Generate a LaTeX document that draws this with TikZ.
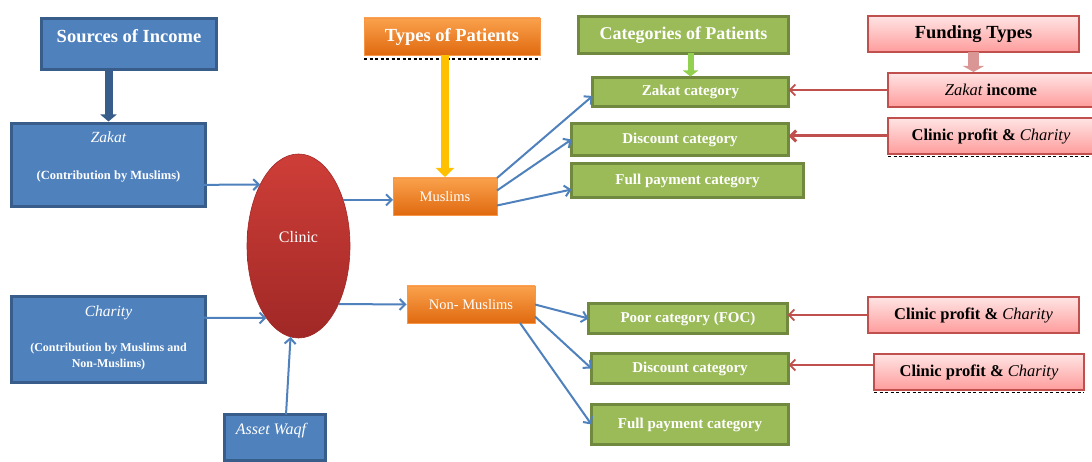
\documentclass[tikz,border=0pt]{standalone}
\usepackage{fontspec}
\setmainfont{Liberation Serif}
\usetikzlibrary{arrows.meta,shapes.geometric}
\definecolor{bdark}{HTML}{385D8A}
\definecolor{bfill}{HTML}{4F81BD}
\definecolor{gdark}{HTML}{71893F}
\definecolor{gfill}{HTML}{9BBB59}
\definecolor{otop}{HTML}{FAA14C}
\definecolor{obot}{HTML}{E06A10}
\definecolor{oline}{HTML}{F79646}
\definecolor{redc}{HTML}{C0504D}
\definecolor{ptop}{HTML}{FFE4E4}
\definecolor{pbot}{HTML}{FF9C9C}
\definecolor{ctop}{HTML}{CF3E38}
\definecolor{cbot}{HTML}{A02826}
\definecolor{yarrow}{HTML}{FFC000}
\definecolor{garrow}{HTML}{92D050}
\definecolor{parrow}{HTML}{D99694}
\tikzset{
 bluebox/.style={draw=bdark, line width=3pt, fill=bfill, text=white, inner sep=0pt, outer sep=0pt},
 greenbox/.style={draw=gdark, line width=3pt, fill=gfill, text=white, font=\fontsize{15}{18}\selectfont\bfseries, inner sep=0pt, outer sep=0pt},
 orangebox/.style={draw=oline, line width=0.8pt, top color=otop, bottom color=obot, text=white, inner sep=0pt, outer sep=0pt},
 pinkbox/.style={draw=redc, line width=2pt, top color=ptop, bottom color=pbot, text=black, font=\fontsize{16.5}{19}\selectfont\bfseries, inner sep=0pt, outer sep=0pt},
 headtxt/.style={text=white, font=\fontsize{18.5}{22}\selectfont\bfseries},
 bluearrow/.style={draw=bfill, line width=2pt, -{Straight Barb[length=5.5pt,width=11pt]}},
 redarrow/.style={draw=redc, line width=1.8pt, -{Straight Barb[length=5.5pt,width=11pt]}},
 dotline/.style={draw=black, line width=1.6pt, dash pattern=on 3pt off 2.5pt},
}
\begin{document}
\begin{tikzpicture}[x=1pt,y=-1pt]
\useasboundingbox[fill=white] (0,0) rectangle (1092,462);

% Sources column
\node[bluebox, minimum width=175, minimum height=51,
  label={[headtxt, yshift=8pt]center:Sources of Income}] (src) at (129,44) {};
\node[bluebox, minimum width=194, minimum height=83,
  label={[text=white, align=center, yshift=8.5pt, font=\fontsize{12.5}{15}\selectfont]center:{{\itshape\fontsize{15.5}{15}\selectfont Zakat}\\[22pt]{\bfseries (Contribution by Muslims)}}}] (zak) at (108.5,165) {};
\node[bluebox, minimum width=194, minimum height=86,
  label={[text=white, align=center, yshift=2pt, font=\fontsize{12}{16}\selectfont]center:{{\itshape\fontsize{15.5}{16}\selectfont Charity}\\[19pt]{\bfseries (Contribution by Muslims and}\\{\bfseries Non-Muslims)}}}] (cha) at (108.5,339.5) {};
\node[bluebox, minimum width=101, minimum height=46,
  label={[text=white, yshift=7pt, xshift=-4pt, font=\fontsize{16}{18}\selectfont\itshape]center:Asset Waqf}] (waqf) at (275,437.5) {};

% Clinic
\node[ellipse, minimum width=103, minimum height=184, inner sep=0pt, outer sep=0pt,
  top color=ctop, bottom color=cbot, draw=cbot, line width=0.6pt,
  label={[text=white, yshift=9pt, font=\fontsize{16}{18}\selectfont]center:Clinic}] (clinic) at (298.5,246) {};

% Types of patients
\node[orangebox, minimum width=176, minimum height=37, font=\fontsize{18.5}{22}\selectfont\bfseries] (top) at (452,36.5) {Types of Patients};
\node[orangebox, minimum width=104, minimum height=37, font=\fontsize{14.5}{17}\selectfont] (mus) at (445,196.5) {Muslims};
\node[orangebox, minimum width=128, minimum height=37, font=\fontsize{14.5}{17}\selectfont] (nonmus) at (471,304.5) {Non- Muslims};

% Categories
\node[greenbox, minimum width=210, minimum height=37, font=\fontsize{18}{21}\selectfont\bfseries] (cat) at (683.5,35) {Categories of Patients};
\node[greenbox, minimum width=196, minimum height=29] (zc) at (690.5,92) {Zakat category};
\node[greenbox, minimum width=217, minimum height=32] (dc1) at (680,139.5) {Discount category};
\node[greenbox, minimum width=232, minimum height=34] (fp1) at (687.5,180.5) {Full payment category};
\node[greenbox, minimum width=199, minimum height=30] (poor) at (688,318.5) {Poor category (FOC)};
\node[greenbox, minimum width=197, minimum height=30] (dc2) at (690,368.5) {Discount category};
\node[greenbox, minimum width=197, minimum height=40] (fp2) at (690,424.5) {Full payment category};

% Funding types
\node[pinkbox, minimum width=211, minimum height=36, font=\fontsize{18.5}{22}\selectfont\bfseries] (fund) at (973.5,34) {Funding Types};
\node[pinkbox, minimum width=206, minimum height=34] (zi) at (991,90) {{\mdseries\itshape Zakat} income};
\node[pinkbox, minimum width=206, minimum height=36] (cp1) at (991,136) {Clinic profit \& {\mdseries\itshape Charity}};
\node[pinkbox, minimum width=211, minimum height=36] (cp2) at (973.5,315) {Clinic profit \& {\mdseries\itshape Charity}};
\node[pinkbox, minimum width=210, minimum height=36] (cp3) at (979,372) {Clinic profit \& {\mdseries\itshape Charity}};

% dotted selection lines
\draw[dotline] ([yshift=-4pt]top.south west) -- ([yshift=-4pt]top.south east);
\draw[dotline] ([yshift=-2.5pt]cp1.south west) -- ([yshift=-2.5pt]cp1.south east);
\draw[dotline] ([yshift=-2.5pt]cp3.south west) -- ([yshift=-2.5pt]cp3.south east);

% thick header arrows
\draw[bdark, line width=8pt, -{Triangle[length=7pt,width=16pt]}] (src.south -| zak.north) -- ([yshift=2pt]zak.north);
\draw[yarrow, line width=8pt, -{Triangle[length=9pt,width=18pt]}] (mus.north |- top.south) -- ([yshift=1pt]mus.north);
\draw[garrow, line width=6pt, -{Triangle[length=6pt,width=15pt]}] (zc.north |- cat.south) -- ([yshift=1pt]zc.north);
\draw[parrow, line width=11pt, -{Triangle[length=6pt,width=21pt]}] (fund.south) -- ([yshift=1pt]fund.south |- zi.north);

% blue connectors
\draw[bluearrow] ([shift={(36.5,20)}]zak.center) -- (clinic.122);
\draw[bluearrow] ([shift={(36.5,-22)}]cha.center) -- (clinic.246);
\draw[bluearrow] ([xshift=11pt]waqf.north) -- (clinic.265);
\draw[bluearrow] (clinic.46) -- (clinic.46 -| mus.west);
\draw[bluearrow] ([shift={(40.4,58)}]clinic.center) -- ([xshift=-0.5pt]nonmus.west);
\draw[bluearrow] (mus.north east) -- ([yshift=-4pt]zc.west);
\draw[bluearrow] ([yshift=6pt]mus.east) -- (dc1.west);
\draw[bluearrow] ([yshift=-9pt]mus.east) -- ([yshift=-9pt]fp1.west);
\draw[bluearrow] (nonmus.east) -- (poor.west);
\draw[bluearrow] ([yshift=-12pt]nonmus.east) -- (dc2.west);
\draw[bluearrow] ([xshift=-15pt]nonmus.south east) -- (fp2.west);

% red connectors
\draw[redarrow] (zi.west) -- (zi.west -| zc.east);
\draw[redarrow, line width=3pt] (cp1.west) -- (cp1.west -| dc1.east);
\draw[redarrow] (cp2.west) -- (cp2.west -| poor.east);
\draw[redarrow] ([yshift=7pt]cp3.west) -- ([yshift=7pt]cp3.west -| dc2.east);
\end{tikzpicture}
\end{document}
